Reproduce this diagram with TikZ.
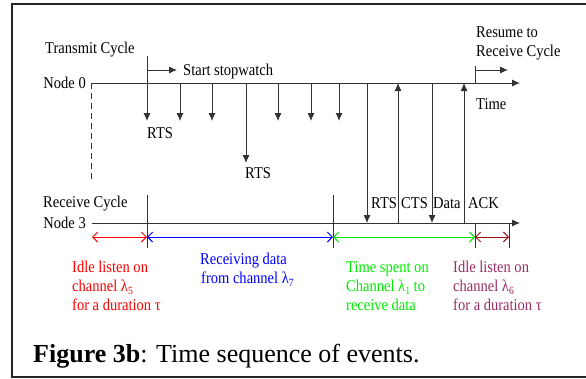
\documentclass[tikz,border=0pt]{standalone}
\usepackage{fontspec}
\setmainfont{Liberation Serif}
\newfontfamily\lblfont[FakeStretch=0.88]{Liberation Serif}
\usetikzlibrary{arrows.meta}
\definecolor{lncol}{RGB}{50,50,50}
\definecolor{gr}{RGB}{0,235,0}
\definecolor{plum}{RGB}{153,45,100}
\definecolor{dred}{RGB}{150,20,20}
\newcommand{\lsub}[1]{\raisebox{-0.45ex}{\fontsize{11}{11}\selectfont #1}}
\tikzset{
  ln/.style={draw=lncol, line width=0.9pt},
  fa/.style={ln, -{Latex[length=8pt,width=7pt]}},
  oa/.style={line width=0.9pt, {Straight Barb[length=5pt,width=10pt]}-{Straight Barb[length=5pt,width=10pt]}},
  lbl/.style={inner sep=0pt, anchor=base west, font=\lblfont\fontsize{16.5}{19}\selectfont},
  lble/.style={lbl, anchor=base east}
}
\begin{document}
\begin{tikzpicture}[x=1pt,y=-1pt]
\useasboundingbox (0,0) rectangle (586,378);
% frame
\coordinate (fr1) at (586,4); \coordinate (fr2) at (12,4);
\coordinate (fr3) at (12,377); \coordinate (fr4) at (586,377);
\draw[line width=1.6pt, black!85] (fr1) -- (fr2) -- (fr3) -- (fr4);

% Node 0 time line
\node[lbl] (tc) at (45,53) {Transmit Cycle};
\node[lble] (n0) at (86,88) {Node 0};
\coordinate (n0s) at (91,83); \coordinate (n0e) at (520,83);
\draw[fa] (n0s) -- (n0e);
\coordinate (dsh) at (91,180);
\draw[ln, dash pattern=on 6pt off 4pt] (n0s) -- (dsh);

% start stopwatch
\coordinate (sw0) at (147,56); \coordinate (sw1) at (147,121);
\draw[fa] (sw0) -- (sw1);
\coordinate (ss0) at (147,70); \coordinate (ss1) at (177,70);
\draw[fa] (ss0) -- (ss1);
\node[lbl] (ssw) at (183,75) {Start stopwatch};
\node[lbl] (rts1) at (147,138) {RTS};

% repeated RTS arrows
\foreach \x/\n in {180/a,212/b,278/c,311/d,339/e}{
  \coordinate (r\n0) at (\x,83); \coordinate (r\n1) at (\x,121);
  \draw[fa] (r\n0) -- (r\n1);
}
\coordinate (rl0) at (246,83); \coordinate (rl1) at (246,163);
\draw[fa] (rl0) -- (rl1);
\node[lbl] (rts2) at (245,178) {RTS};

% handshake arrows between Node 0 and Node 3
\coordinate (h10) at (367,83); \coordinate (h11) at (367,223);
\draw[fa] (h10) -- (h11);
\coordinate (h20) at (398,223); \coordinate (h21) at (398,83);
\draw[fa] (h20) -- (h21);
\coordinate (h30) at (432,83); \coordinate (h31) at (432,223);
\draw[fa] (h30) -- (h31);
\coordinate (h40) at (464,223); \coordinate (h41) at (464,83);
\draw[fa] (h40) -- (h41);
\node[lbl] (lr) at (371,208) {RTS};
\node[lbl] (lc) at (401,208) {CTS};
\node[lbl] (ld) at (433,208) {Data};
\node[lbl] (la) at (468,208) {ACK};

% resume
\coordinate (rs0) at (475,66); \coordinate (rs1) at (475,83);
\draw[ln] (rs0) -- (rs1);
\coordinate (rs2) at (475,70); \coordinate (rs3) at (508,70);
\draw[fa] (rs2) -- (rs3);
\node[lbl] (res1) at (476,37) {Resume to};
\node[lbl] (res2) at (476,56) {Receive Cycle};
\node[lbl] (tm) at (476,109) {Time};

% Node 3 time line
\node[lbl] (rc) at (43,207) {Receive Cycle};
\node[lble] (n3) at (86,228) {Node 3};
\coordinate (n3s) at (92,223); \coordinate (n3e) at (520,223);
\draw[fa] (n3s) -- (n3e);
\coordinate (k10) at (147,195); \coordinate (k11) at (147,248);
\draw[ln] (k10) -- (k11);
\coordinate (k20) at (333,195); \coordinate (k21) at (333,248);
\draw[ln] (k20) -- (k21);
\coordinate (k30) at (475,223); \coordinate (k31) at (475,248);
\draw[ln] (k30) -- (k31);
\coordinate (k40) at (509,223); \coordinate (k41) at (509,248);
\draw[ln] (k40) -- (k41);

% coloured intervals
\coordinate (p0) at (92,237); \coordinate (p1) at (147,237);
\coordinate (p2) at (333,237); \coordinate (p3) at (475,237);
\coordinate (p4) at (509,237);
\draw[oa, red] (p0) -- (p1);
\draw[oa, blue] (p1) -- (p2);
\draw[oa, gr] (p2) -- (p3);
\draw[oa, dred] (p3) -- (p4);

\node[lbl, red] (i1) at (72,272) {Idle listen on};
\node[lbl, red] (i2) at (72,291) {channel λ\lsub{5}};
\node[lbl, red] (i3) at (72,310) {for a duration τ};

\node[lbl, blue] (b1) at (200,264) {Receiving data};
\node[lbl, blue] (b2) at (201,283) {from channel λ\lsub{7}};

\node[lbl, gr] (g1) at (346,272) {Time spent on};
\node[lbl, gr] (g2) at (346,291) {Channel λ\lsub{1} to};
\node[lbl, gr] (g3) at (346,310) {receive data};

\node[lbl, plum] (m1) at (453,272) {Idle listen on};
\node[lbl, plum] (m2) at (453,291) {channel λ\lsub{6}};
\node[lbl, plum] (m3) at (453,310) {for a duration τ};

% caption
\node[inner sep=0pt, anchor=base west, font=\fontsize{26}{30}\selectfont] (cap) at (33,362) {\textbf{Figure 3b}: Time sequence of events.};
\end{tikzpicture}
\end{document}
